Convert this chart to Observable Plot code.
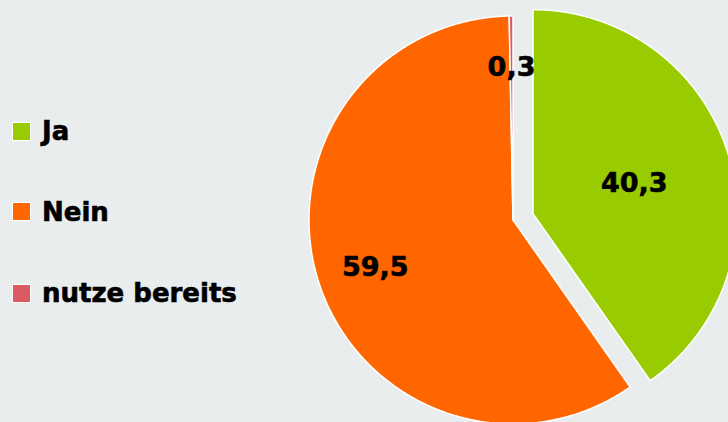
<!DOCTYPE html>
<html>
<head>
<meta charset="utf-8">
<script src="https://cdn.jsdelivr.net/npm/d3@7"></script>
<script src="https://cdn.jsdelivr.net/npm/@observablehq/plot@0.6"></script>
<style>
  html, body { margin: 0; padding: 0; background: #e9edee; }
  #wrap { position: relative; width: 728px; height: 422px; overflow: hidden; background: #e9edee; }
  #chart { position: absolute; left: 0; top: 0; }
  #legend { position: absolute; left: 0; top: 0; width: 300px; height: 422px; font-family: "DejaVu Sans", sans-serif; font-weight: bold; color: #000; }
  .item { position: absolute; left: 12px; display: flex; align-items: center; font-size: 26px; white-space: nowrap; -webkit-text-stroke: 0.6px #000; }
  .sw { width: 17px; height: 17px; border: 1.5px solid #fff; margin-right: 11px; box-sizing: content-box; }
</style>
</head>
<body>
<div id="wrap">
  <div id="chart"></div>
  <div id="legend"></div>
</div>
<script>
// ---- data ----
const categories = ["Ja", "Nein", "nutze bereits"];
const values = [40.3, 59.5, 0.3];
const valueLabels = ["40,3", "59,5", "0,3"];
const colors = ["#99cc00", "#ff6600", "#dc5b63"];
const explodeFraction = [0.103, 0, 0];
const labelRadius = [0.52, 0.71, 0.76];

// ---- layout ----
const W = 728, H = 422;
const cx = 512.5, cy = 219.5, R = 204;

const data = categories.map((c, i) => ({cat: c, value: values[i], label: valueLabels[i], i}));
const arcs = d3.pie().sort(null).value(d => d.value)(data);

// build slice outlines (unit-circle coordinates, y up)
const pts = [];
const labelPts = [];
arcs.forEach(a => {
  const d = a.data;
  const mid = (a.startAngle + a.endAngle) / 2;
  const ox = Math.sin(mid) * explodeFraction[d.i];
  const oy = Math.cos(mid) * explodeFraction[d.i];
  pts.push({cat: d.cat, x: ox, y: oy});
  const n = Math.max(2, Math.ceil((a.endAngle - a.startAngle) / 0.004));
  for (let k = 0; k <= n; k++) {
    const t = a.startAngle + (a.endAngle - a.startAngle) * k / n;
    pts.push({cat: d.cat, x: ox + Math.sin(t), y: oy + Math.cos(t)});
  }
  const lr = labelRadius[d.i];
  labelPts.push({cat: d.cat, label: d.label, x: ox + Math.sin(mid) * lr, y: oy + Math.cos(mid) * lr});
});

const chart = Plot.plot({
  width: W,
  height: H,
  margin: 0,
  style: {background: "transparent", overflow: "visible"},
  x: {domain: [-cx / R, (W - cx) / R], range: [0, W], axis: null},
  y: {domain: [-(H - cy) / R, cy / R], range: [H, 0], axis: null},
  color: {domain: categories, range: colors},
  marks: [
    Plot.line(pts, {x: "x", y: "y", z: "cat", fill: "cat", stroke: "#ffffff", strokeWidth: 1.5, curve: "linear-closed"}),
    Plot.text(labelPts, {x: "x", y: "y", text: "label", dy: 2, fill: "#000", stroke: "#000", strokeWidth: 0.6, fontSize: 27, fontWeight: "bold", fontFamily: "DejaVu Sans, sans-serif"})
  ]
});
document.getElementById("chart").appendChild(chart);

// legend
const legendY = [131, 211.5, 293];
const legend = document.getElementById("legend");
categories.forEach((c, i) => {
  const item = document.createElement("div");
  item.className = "item";
  item.style.top = (legendY[i] - 18) + "px";
  item.style.height = "36px";
  const sw = document.createElement("div");
  sw.className = "sw";
  sw.style.background = colors[i];
  const tx = document.createElement("span");
  tx.textContent = c;
  item.appendChild(sw);
  item.appendChild(tx);
  legend.appendChild(item);
});
</script>
</body>
</html>
